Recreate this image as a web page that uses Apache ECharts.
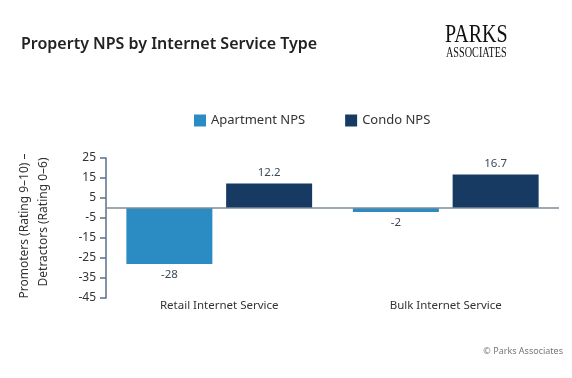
<!DOCTYPE html>
<html>
<head>
<meta charset="utf-8">
<script src="https://cdn.jsdelivr.net/npm/echarts@6/dist/echarts.min.js"></script>
<style>
  html, body { margin: 0; padding: 0; background: #fff; }
  #chart { width: 572px; height: 378px; }
</style>
</head>
<body>
<div id="chart"></div>
<script>
// 数据
var categories = ['Retail Internet Service', 'Bulk Internet Service'];
var apartmentNps = [-28, -2];
var condoNps = [12.2, 16.7];
var yMin = -45, yMax = 25, yStep = 10;

var FONT = 'Noto Sans';

function withLabels(values) {
    return values.map(function(v) {
        return { value: v, label: { position: v < 0 ? 'bottom' : 'top' } };
    });
}

var chart = echarts.init(document.getElementById('chart'));
var option = {
    backgroundColor: '#fff',
    animation: false,
    title: {
        text: 'Property NPS by Internet Service Type',
        left: 16, top: 31,
        textStyle: { fontFamily: FONT, fontSize: 16, fontWeight: 600, color: '#222' }
    },
    legend: {
        data: ['Apartment NPS', 'Condo NPS'],
        left: 189, top: 109,
        itemWidth: 12, itemHeight: 12, itemGap: 40,
        icon: 'rect',
        textStyle: { fontFamily: FONT, fontSize: 13, color: '#333' }
    },
    grid: { left: 106, right: 13, top: 158, bottom: 80, containLabel: false },
    xAxis: {
        type: 'category',
        data: categories,
        axisLine: { show: false },
        axisTick: { show: false },
        axisLabel: { fontFamily: FONT, fontSize: 11.5, color: '#333', margin: 2 }
    },
    yAxis: {
        type: 'value',
        min: yMin, max: yMax, interval: yStep,
        axisLine: { show: true, lineStyle: { color: '#5a7189', width: 1.5 } },
        axisTick: { show: true, length: 6, lineStyle: { color: '#5a7189', width: 1.5 } },
        splitLine: { show: false },
        axisLabel: { fontFamily: FONT, fontSize: 12, color: '#333', margin: 10 }
    },
    graphic: [
        { type: 'text', x: 25, y: 226, rotation: Math.PI / 2,
          style: { text: 'Promoters (Rating 9\u201310) \u2013', fontFamily: FONT, fontSize: 12, fill: '#333',
                   textAlign: 'center', textVerticalAlign: 'middle' } },
        { type: 'text', x: 44, y: 222, rotation: Math.PI / 2,
          style: { text: 'Detractors (Rating 0\u20136)', fontFamily: FONT, fontSize: 12, fill: '#333',
                   textAlign: 'center', textVerticalAlign: 'middle' } },
        { type: 'text', x: 445, y: 23, scaleX: 0.8,
          style: { text: 'PARKS', fontFamily: 'Liberation Serif', fontSize: 25, fill: '#111' } },
        { type: 'text', x: 446, y: 46, scaleX: 0.68,
          style: { text: 'ASSOCIATES', fontFamily: 'Liberation Serif', fontSize: 15, fill: '#111' } },
        { type: 'text', right: 9, top: 347,
          style: { text: '\u00a9 Parks Associates', fontFamily: FONT, fontSize: 9, fill: '#777' } }
    ],
    series: [{
        name: 'Apartment NPS',
        type: 'bar',
        barWidth: 86,
        barGap: '16%',
        itemStyle: { color: '#2b8cc4' },
        label: { show: true, distance: 5, fontFamily: FONT, fontSize: 11.5, color: '#3a4a5c' },
        markLine: {
            silent: true, symbol: 'none', label: { show: false },
            lineStyle: { color: '#7d8c99', width: 1.5, type: 'solid' },
            data: [{ yAxis: 0 }]
        },
        data: withLabels(apartmentNps)
    }, {
        name: 'Condo NPS',
        type: 'bar',
        barWidth: 86,
        barGap: '16%',
        itemStyle: { color: '#163a62' },
        label: { show: true, distance: 5, fontFamily: FONT, fontSize: 11.5, color: '#3a4a5c' },
        data: withLabels(condoNps)
    }]
};
chart.setOption(option);
</script>
</body>
</html>
